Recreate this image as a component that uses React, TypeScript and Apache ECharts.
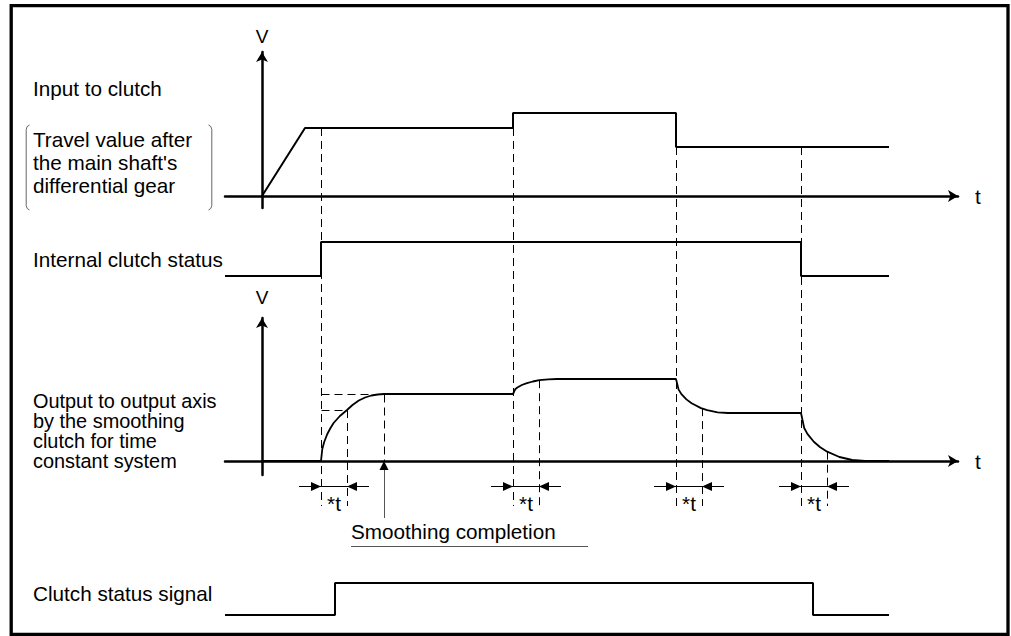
import React, { useEffect, useRef } from "react";
import * as echarts from "echarts";

// ---- data (time t, value V) ----
const EVENT_T = [5.9, 25.1, 41.4, 53.9];
const TAU = 2.6;
const SMOOTH_DONE_T = 12.2;
const OUT_LEVEL_1 = 6.7;
const EVENT_TOP_V = [6.8, 6.8, 4.9, 4.9];
const TAU_V = [5.1, 8.08, 5.29, 0.93];

const INPUT_T = [0, 4.3, 25.1, 25.1, 41.4, 41.4, 62.7];
const INPUT_V = [0, 6.8, 6.8, 8.3, 8.3, 4.9, 4.9];

const INTERNAL_T = [-3.7, 5.9, 5.9, 53.9, 53.9, 62.7];
const INTERNAL_S = [0, 0, 1, 1, 0, 0];

const OUTPUT_T = [0,
  5.9, 6.03, 6.22, 6.53, 6.85, 7.16, 7.79, 8.5, 9.05, 9.68, 10.31, 10.94, 11.57, 12.2,
  25.1, 25.32, 25.54, 25.98, 26.42, 27.08, 27.74, 28.62, 29.5,
  41.4, 41.66, 41.92, 42.44, 42.96, 43.9, 44.52, 45.56, 46.6,
  53.9, 54.22, 54.54, 55.18, 55.82, 56.52, 57.74, 59.02, 60.3,
  62.7];
const OUTPUT_V = [0,
  0, 1.2, 1.9, 2.7, 3.3, 3.8, 4.5, 5.1, 5.6, 6.05, 6.35, 6.55, 6.65, 6.7,
  6.7, 7.17, 7.35, 7.6, 7.77, 7.95, 8.08, 8.17, 8.2,
  8.2, 7.14, 6.72, 6.16, 5.77, 5.29, 5.08, 4.87, 4.8,
  4.8, 3.3, 2.71, 1.92, 1.37, 0.93, 0.4, 0.1, 0,
  0];

const STATUS_T = [-3.7, 7.3, 7.3, 55.1, 55.1, 62.7];
const STATUS_S = [0, 0, 1, 1, 0, 0];

const LEFT_LABEL = "Input to clutch";
const BRACKET_LABELS = ["Travel value after", "the main shaft's", "differential gear"];
const INTERNAL_LABEL = "Internal clutch status";
const OUTPUT_LABELS = ["Output to output axis", "by the smoothing", "clutch for time", "constant system"];
const STATUS_LABEL = "Clutch status signal";
const COMPLETION_LABEL = "Smoothing completion";
const TAU_LABEL = "*t";

// ---- layout ----
const FONT_FAMILY = '"Liberation Sans", Arial, sans-serif';
const FS = 20.7;
const FONT = `${FS}px ${FONT_FAMILY}`;
const FONT_TIGHT = `19.9px ${FONT_FAMILY}`;
const X_MIN = -3.7;
const X_MAX = 69.6;
const DASH = [8, 5];
const DASH_BOTTOM = 506;
const MARK_Y = 486.5;

const zip = (a: number[], b: number[]) => a.map((v, i) => [v, b[i]]);
const crisp = (v: number) => Math.round(v) + 0.5;

function xAxis(grid: number, show: boolean) {
  return {
    type: "value", gridIndex: grid, min: X_MIN, max: X_MAX, show,
    axisLine: {
      show, onZero: true, symbol: ["none", "arrow"], symbolSize: [9, 10],
      lineStyle: { color: "#000", width: 2.5 },
    },
    axisTick: { show: false }, axisLabel: { show: false }, splitLine: { show: false },
    name: show ? "t" : "", nameLocation: "end", nameGap: 17,
    nameTextStyle: { color: "#000", fontSize: FS, fontFamily: FONT_FAMILY },
  };
}
function yAxis(grid: number, show: boolean, min: number, max: number, gap: number) {
  return {
    type: "value", gridIndex: grid, min, max, show,
    axisLine: {
      show, onZero: true, symbol: ["none", "arrow"], symbolSize: [9, 10],
      lineStyle: { color: "#000", width: 2.5 },
    },
    axisTick: { show: false }, axisLabel: { show: false }, splitLine: { show: false },
    name: show ? "V" : "", nameLocation: "end", nameGap: gap,
    nameTextStyle: { color: "#000", fontSize: 19, fontFamily: FONT_FAMILY },
  };
}
function line(grid: number, data: number[][], width: number, z = 3) {
  return {
    type: "line", xAxisIndex: grid, yAxisIndex: grid, data, showSymbol: false, symbol: "none",
    clip: false, silent: true, z,
    lineStyle: { color: "#000", width, type: "solid" },
  };
}

export default function App() {
  const ref = useRef<HTMLDivElement>(null);
  useEffect(() => {
    document.body.style.margin = "0";
    const chart = echarts.init(ref.current!, null, { renderer: "svg" });
    const option: any = {
      animation: false,
      backgroundColor: "#fff",
      grid: [
        { left: 225, right: 53, top: 52, height: 156 },
        { left: 225, right: 53, top: 242, height: 34 },
        { left: 225, right: 53, top: 318, height: 157 },
        { left: 225, right: 53, top: 583, height: 32 },
      ],
      xAxis: [xAxis(0, true), xAxis(1, false), xAxis(2, true), xAxis(3, false)],
      yAxis: [
        yAxis(0, true, -1.2, 14.4, 6),
        yAxis(1, false, 0, 1, 0),
        yAxis(2, true, -1.4, 14.3, 11),
        yAxis(3, false, 0, 1, 0),
      ],
      series: [
        line(0, zip(INPUT_T, INPUT_V), 2),
        line(1, zip(INTERNAL_T, INTERNAL_S), 2),
        line(2, zip(OUTPUT_T, OUTPUT_V), 1.8),
        line(3, zip(STATUS_T, STATUS_S), 2),
      ],
    };
    chart.setOption(option);

    const xPx = (t: number) => (chart.convertToPixel({ gridIndex: 0 }, [t, 0]) as number[])[0];
    const yTop = (v: number) => (chart.convertToPixel({ gridIndex: 0 }, [0, v]) as number[])[1];
    const yOut = (v: number) => (chart.convertToPixel({ gridIndex: 2 }, [0, v]) as number[])[1];

    const els: any[] = [];
    const text = (s: string, x: number, y: number, align = "left", lh = FS, font = FONT) => ({
      type: "text", x, y, silent: true, z: 10,
      style: {
        text: s, font, fill: "#000", lineHeight: lh,
        textAlign: align, align, textVerticalAlign: "middle", verticalAlign: "middle",
      },
    });
    const seg = (x1: number, y1: number, x2: number, y2: number, dash = false, color = "#000", w = 1) => ({
      type: "line", silent: true, z: 5,
      shape: { x1, y1, x2, y2 },
      style: { stroke: color, lineWidth: w, lineDash: dash ? DASH : null },
    });

    // frame
    els.push({
      type: "rect", silent: true, z: 20,
      shape: { x: 11.2, y: 5.6, width: 996.8, height: 628.8 },
      style: { fill: "none", stroke: "#000", lineWidth: 3.3 },
    });

    // left labels
    els.push(text(LEFT_LABEL, 33, 88));
    els.push(text(BRACKET_LABELS.join("\n"), 33, 162.3, "left", 23.3));
    els.push(text(INTERNAL_LABEL, 33, 259));
    els.push(text(OUTPUT_LABELS.join("\n"), 33, 430.5, "left", 20, FONT_TIGHT));
    els.push(text(STATUS_LABEL, 33, 593));

    // brackets
    els.push({
      type: "polyline", silent: true,
      shape: { points: [[29.5, 125], [27.2, 126.5], [26.2, 129.5], [26.2, 205.5], [27.2, 208.5], [29.5, 210]] },
      style: { stroke: "#666", lineWidth: 1, fill: "none" },
    });
    els.push({
      type: "polyline", silent: true,
      shape: { points: [[208.5, 125], [210.8, 126.5], [211.8, 129.5], [211.8, 205.5], [210.8, 208.5], [208.5, 210]] },
      style: { stroke: "#666", lineWidth: 1, fill: "none" },
    });

    // dashed guide box for the first smoothing
    const x0 = crisp(xPx(EVENT_T[0]));
    const xc = xPx(SMOOTH_DONE_T);
    const yL1 = crisp(yOut(OUT_LEVEL_1));
    const yT1 = crisp(yOut(TAU_V[0]));
    els.push(seg(x0, yL1, crisp(xc), yL1, true));
    els.push(seg(x0, yT1, crisp(xPx(EVENT_T[0] + TAU)), yT1, true));
    els.push(seg(crisp(xc), yL1, crisp(xc), yOut(0), true));

    // dashed verticals at clutch events + *t markers
    EVENT_T.forEach((t, i) => {
      const xr = xPx(t);
      const x = crisp(xr);
      els.push(seg(x, yTop(EVENT_TOP_V[i]), x, DASH_BOTTOM, true));
      const xtr = xPx(t + TAU);
      const xt = crisp(xtr);
      els.push(seg(xt, yOut(TAU_V[i]), xt, DASH_BOTTOM, true));
      els.push(seg(xr - 22, MARK_Y, xtr + 22, MARK_Y));
      els.push({
        type: "polygon", silent: true, z: 6,
        shape: { points: [[xr - 10, MARK_Y - 4.5], [xr, MARK_Y], [xr - 10, MARK_Y + 4.5]] },
        style: { fill: "#000" },
      });
      els.push({
        type: "polygon", silent: true, z: 6,
        shape: { points: [[xtr + 10, MARK_Y - 4.5], [xtr, MARK_Y], [xtr + 10, MARK_Y + 4.5]] },
        style: { fill: "#000" },
      });
      els.push(text(TAU_LABEL, (xr + xtr) / 2, 503, "center"));
    });

    // smoothing completion pointer
    const y0 = yOut(0);
    els.push({
      type: "polygon", silent: true, z: 6,
      shape: { points: [[xc, y0], [xc - 4.5, y0 + 9], [xc + 4.5, y0 + 9]] },
      style: { fill: "#000" },
    });
    els.push(seg(crisp(xc), y0 + 9, crisp(xc), 518, false, "#555", 1));
    els.push(text(COMPLETION_LABEL, 351, 531));
    els.push(seg(351, 546.5, 588, 546.5, false, "#555", 1));

    chart.setOption({ graphic: { elements: els } });
    return () => chart.dispose();
  }, []);
  return (
    <div
      ref={ref}
      style={{ position: "absolute", left: 0, top: 0, width: 1011, height: 636, background: "#fff" }}
    />
  );
}
